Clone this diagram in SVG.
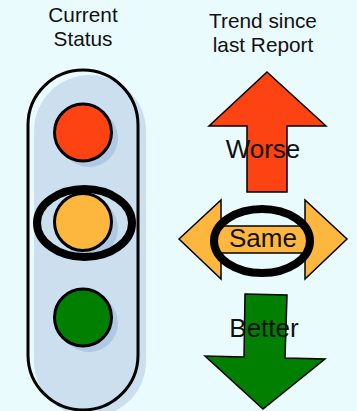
<svg xmlns="http://www.w3.org/2000/svg" width="357" height="411" viewBox="0 0 357 411">
<style>
.t{font-family:"Liberation Sans",Arial,sans-serif;fill:#111;text-anchor:middle}
.h{font-size:20.800px}
.l{font-size:26px}
.o{fill:none;stroke:#000;stroke-width:3}
.s{fill:#b0c9e3}
.a{stroke:#000;stroke-width:1.5;stroke-linejoin:miter}
.r{fill:none;stroke:#000;stroke-width:8}
</style>
<rect width="357" height="411" fill="#e9fbfd"/>
<g id="header-status"><text class="t h" x="83" y="22">Current</text><text class="t h" x="83" y="46">Status</text></g>
<g id="header-trend"><text class="t h" x="263" y="28">Trend since</text><text class="t h" x="263" y="52">last Report</text></g>
<g id="housing">
<rect x="34" y="75" width="112" height="342" rx="56" fill="#cbdfef"/>
<rect class="o" x="28" y="70" width="110" height="340" rx="55"/>
</g>
<g id="light-red"><circle class="s" cx="89" cy="138" r="29"/><circle class="o" cx="83" cy="132.500" r="28.500" style="fill:#fc4311"/></g>
<g id="light-amber"><circle class="s" cx="89" cy="228" r="29"/><circle class="o" cx="83" cy="222" r="28.500" style="fill:#fdb73e"/></g>
<g id="light-green"><circle class="s" cx="89" cy="323" r="29"/><circle class="o" cx="83" cy="317.500" r="28.500" style="fill:#007f00"/></g>
<g id="status-ring"><ellipse class="r" cx="84.500" cy="223" rx="47.500" ry="34"/></g>
<g id="arrow-worse">
<polygon class="a" fill="#fc4311" points="267,72 326,126 287,126 287,192 247,192 247,126 209,126"/>
<text class="t l" x="263" y="158">Worse</text>
</g>
<g id="arrow-same">
<polygon class="a" fill="#fdb73e" points="179,239 221,200 221,226 305,226 305,200 347,239 305,279 305,253 221,253 221,279"/>
<ellipse class="r" cx="262" cy="241" rx="48" ry="32"/>
<text class="t l" x="263" y="247">Same</text>
</g>
<g id="arrow-better">
<polygon class="a" fill="#007f00" points="245,294 287,295 285,358 325,359 263,409 205,356 244,357"/>
<text class="t l" x="264" y="337">Better</text>
</g>
</svg>
